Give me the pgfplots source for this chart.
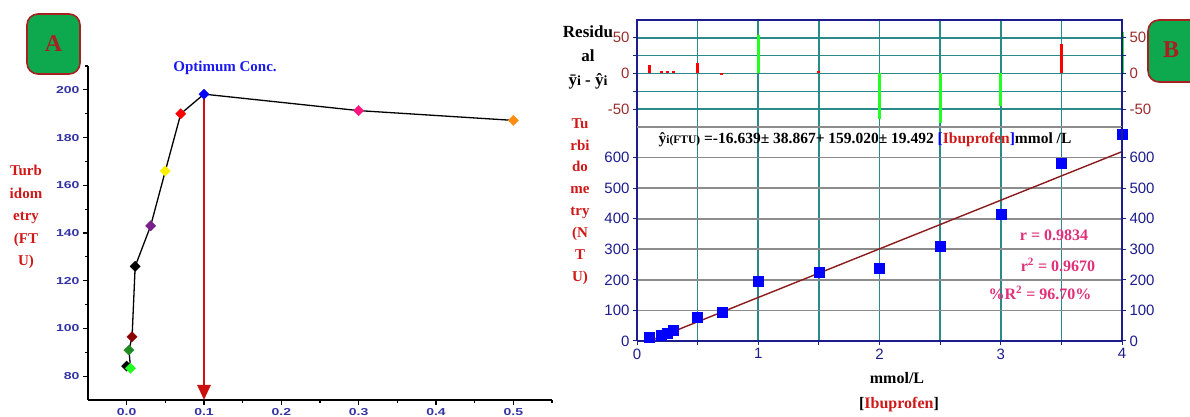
\documentclass[border=0pt]{standalone}
\usepackage{fontspec}
\setmainfont{Liberation Serif}
\newfontfamily\arial{Liberation Sans}
\usepackage{graphicx}
\usepackage{pgfplots}
\pgfplotsset{compat=1.18}
\usetikzlibrary{arrows.meta}
\definecolor{boxgreen}{HTML}{0EA84E}
\definecolor{boxred}{HTML}{A82020}
\definecolor{tickA}{HTML}{3434A4}
\definecolor{labred}{HTML}{D01818}
\definecolor{arrowred}{HTML}{CC1010}
\definecolor{navyc}{HTML}{1C1C8C}
\definecolor{tealc}{HTML}{2A8A8A}
\definecolor{grayc}{HTML}{8C8C8C}
\definecolor{resred}{HTML}{9B2D2D}
\definecolor{fitred}{HTML}{8B1A1A}
\definecolor{statpink}{HTML}{E0307A}
\definecolor{optblue}{HTML}{1A1AF0}
\definecolor{lgreen}{HTML}{22FF22}
\definecolor{dgreen}{HTML}{1E8C1E}
\definecolor{dred}{HTML}{8B0000}
\definecolor{purp}{HTML}{7A1E8C}
\definecolor{yell}{HTML}{FFF000}
\definecolor{pinkm}{HTML}{FF1480}
\definecolor{orng}{HTML}{FF8C10}
\pgfplotsset{/pgf/number format/assume math mode=true}
\begin{document}
\begin{tikzpicture}
\path[use as bounding box] (0pt,0pt) rectangle (1190pt,417pt);
% ---------------- Panel A ----------------
\begin{axis}[
  at={(88pt,17pt)}, anchor=south west, scale only axis,
  width=464pt, height=334pt,
  xmin=-0.05, xmax=0.55, ymin=70, ymax=210,
  axis x line*=bottom, axis y line*=left,
  axis line style={black, line width=1.4pt, -},
  tick align=outside,
  xtick={0,0.1,0.2,0.3,0.4,0.5},
  minor xtick={0.05,0.15,0.25,0.35,0.45,0.55},
  ytick={80,100,...,200},
  minor ytick={90,110,...,190,210},
  major tick length=5pt, minor tick length=3pt,
  tick style={black, line width=1.2pt},
  ticklabel style={font=\arial\bfseries\fontsize{14}{14}\selectfont, text=tickA},
  xticklabel={\scalebox{1}[0.72]{\pgfmathprintnumber[fixed,fixed zerofill,precision=1]{\tick}}},
  yticklabel={\scalebox{1}[0.72]{\pgfmathprintnumber{\tick}}},
  clip=false,
]
\addplot[black, line width=1.3pt] coordinates {
 (0,84.2) (0.005,83.3) (0.003,90.9) (0.007,96.5) (0.011,126) (0.031,143)
 (0.05,166) (0.07,190) (0.1,198.2) (0.3,191.3) (0.5,187.2)};
\addplot[arrowred, line width=2.6pt, -{Triangle[width=13pt,length=15pt]}]
 coordinates {(0.1,198.2) (0.1,70)};
\addplot[scatter, only marks, point meta=explicit symbolic,
  mark=square*, mark size=3.6pt,
  every mark/.append style={rotate=45},
  scatter/classes={
    k={draw=black,fill=black},
    lg={draw=lgreen,fill=lgreen},
    dg={draw=dgreen,fill=dgreen},
    dr={draw=dred,fill=dred},
    pu={draw=purp,fill=purp},
    ye={draw=yell,fill=yell},
    rd={draw=red,fill=red},
    bl={draw=blue,fill=blue},
    pk={draw=pinkm,fill=pinkm},
    or={draw=orng,fill=orng}}]
 table[meta=c] {
 x y c
 0 84.2 k
 0.005 83.3 lg
 0.003 90.9 dg
 0.007 96.5 dr
 0.011 126 k
 0.031 143 pu
 0.05 166 ye
 0.07 190 rd
 0.1 198.2 bl
 0.3 191.3 pk
 0.5 187.2 or
 };
\end{axis}
% A box
\draw[boxred, line width=1.6pt, fill=boxgreen, rounded corners=11pt] (27pt,343pt) rectangle (80pt,403pt);
\node[text=boxred, font=\bfseries\fontsize{24}{24}\selectfont] at (53.5pt,373pt) {A};
\node[text=optblue, font=\bfseries\fontsize{15}{15}\selectfont] at (225pt,349pt) {Optimum Conc.};
\node[text=labred, font=\bfseries\fontsize{15}{22.5}\selectfont, align=center] at (26pt,200pt)
 {Turb\\idom\\etry\\(FT\\U)};
% ---------------- Panel B : residuals ----------------
\begin{axis}[
  at={(637pt,290pt)}, anchor=south west, scale only axis,
  width=485pt, height=107pt,
  xmin=0, xmax=4, ymin=-75, ymax=75,
  axis line style={navyc, line width=1.3pt},
  xtick={0,0.5,...,4}, xticklabels={}, xtick style={draw=none},
  ytick={-50,0,50}, minor ytick={-25,25},
  ytick pos=left,
  xmajorgrids, ymajorgrids, yminorgrids,
  grid style={tealc, line width=1.6pt},
  major grid style={tealc, line width=1.6pt},
  minor grid style={tealc, line width=1.6pt},
  tick align=outside, major tick length=4pt, minor tick length=4pt,
  tick style={navyc, line width=1pt},
  ticklabel style={font=\arial\fontsize{15}{15}\selectfont, text=resred},
  clip=false,
]
\addplot[ycomb, red, line width=3pt] coordinates {
 (0.1,11.5) (0.2,2.8) (0.25,2.9) (0.3,2.9) (0.5,14.6) (0.7,-2.1) (1.5,2.8) (3.5,41.1)};
\addplot[ycomb, lgreen, line width=3pt] coordinates {
 (1.0,53.6) (2.0,-63.4) (2.5,-69.2) (3.0,-45.9) (4.0,57.6)};
\end{axis}
\begin{axis}[
  at={(637pt,290pt)}, anchor=south west, scale only axis,
  width=485pt, height=107pt,
  xmin=0, xmax=4, ymin=-75, ymax=75,
  axis x line=none, axis y line*=right,
  axis line style={navyc, line width=1.3pt, -},
  ytick={-50,0,50}, minor ytick={-25,25},
  tick align=outside, major tick length=4pt, minor tick length=4pt,
  tick style={navyc, line width=1pt},
  ticklabel style={font=\arial\fontsize{15}{15}\selectfont, text=resred},
]
\end{axis}
% ---------------- Panel B : calibration ----------------
\begin{axis}[
  at={(637pt,76pt)}, anchor=south west, scale only axis,
  width=485pt, height=214pt,
  xmin=0, xmax=4, ymin=0, ymax=700,
  axis x line*=bottom, axis y line*=left,
  axis line style={navyc, line width=1.3pt, -},
  xtick={0,1,2,3,4}, minor xtick={0.5,1.5,2.5,3.5},
  ytick={0,100,...,600},
  extra y ticks={700}, extra y tick labels={},
  extra y tick style={ymajorgrids=true, major tick length=0pt},
  xmajorgrids, xminorgrids, ymajorgrids,
  major x grid style={tealc, line width=1.6pt},
  minor x grid style={tealc, line width=1.6pt},
  major y grid style={grayc, line width=1.8pt},
  tick align=outside, major tick length=4pt, minor tick length=4pt,
  tick style={navyc, line width=1pt},
  ticklabel style={font=\arial\fontsize{15}{15}\selectfont, text=navyc},
  clip=false,
]
\addplot[fitred, line width=1.4pt] coordinates {(0.1,-0.74) (4,619.44)};
\addplot[only marks, mark=square*, mark size=5pt, blue] coordinates {
 (0.1,11) (0.2,18) (0.25,26) (0.3,34) (0.5,77.5) (0.7,92.6) (1.0,196)
 (1.5,224.7) (2.0,238) (2.5,311.7) (3.0,414.5) (3.5,581) (4.0,677)};
\end{axis}
\begin{axis}[
  at={(637pt,76pt)}, anchor=south west, scale only axis,
  width=485pt, height=214pt,
  xmin=0, xmax=4, ymin=0, ymax=700,
  axis x line=none, axis y line*=right,
  axis line style={navyc, line width=1.3pt, -},
  ytick={0,100,...,600},
  tick align=outside, major tick length=4pt,
  tick style={navyc, line width=1pt},
  ticklabel style={font=\arial\fontsize{15}{15}\selectfont, text=navyc},
]
\end{axis}
% texts panel B
\node[font=\bfseries\fontsize{17}{24}\selectfont, align=center] at (588pt,360pt)
 {Residu\\al\\ȳ{\fontsize{14}{14}\selectfont i} - ŷ{\fontsize{14}{14}\selectfont i}};
\node[text=labred, font=\bfseries\fontsize{15}{21.9}\selectfont, align=center] at (580pt,215.5pt)
 {Tu\\rbi\\do\\me\\try\\(N\\T\\U)};
\node[font=\bfseries\fontsize{15.5}{15.5}\selectfont] at (865pt,277pt)
 {ŷ{\fontsize{11.5}{11.5}\selectfont i(FTU)} =-16.639± 38.867+ 159.020± 19.492 \textcolor{blue}{[}\textcolor{labred}{Ibuprofen}\textcolor{blue}{]}mmol /L};
\node[text=statpink, font=\bfseries\fontsize{16}{16}\selectfont] at (1054pt,182pt) {r = 0.9834};
\node[text=statpink, font=\bfseries\fontsize{16}{16}\selectfont] at (1058pt,152pt) {r\textsuperscript{2} = 0.9670};
\node[text=statpink, font=\bfseries\fontsize{16}{16}\selectfont] at (1040pt,124pt) {\%R\textsuperscript{2} = 96.70\%};
\node[font=\bfseries\fontsize{16}{16}\selectfont] at (897pt,39pt) {mmol/L};
\node[font=\bfseries\fontsize{16}{16}\selectfont] at (899pt,12pt) {[\textcolor{labred}{Ibuprofen}]};
% B box
\draw[boxred, line width=1.6pt, fill=boxgreen, rounded corners=11pt] (1148pt,335pt) rectangle (1210pt,397pt);
\node[text=boxred, font=\bfseries\fontsize{24}{24}\selectfont] at (1171pt,367pt) {B};
\end{tikzpicture}
\end{document}
